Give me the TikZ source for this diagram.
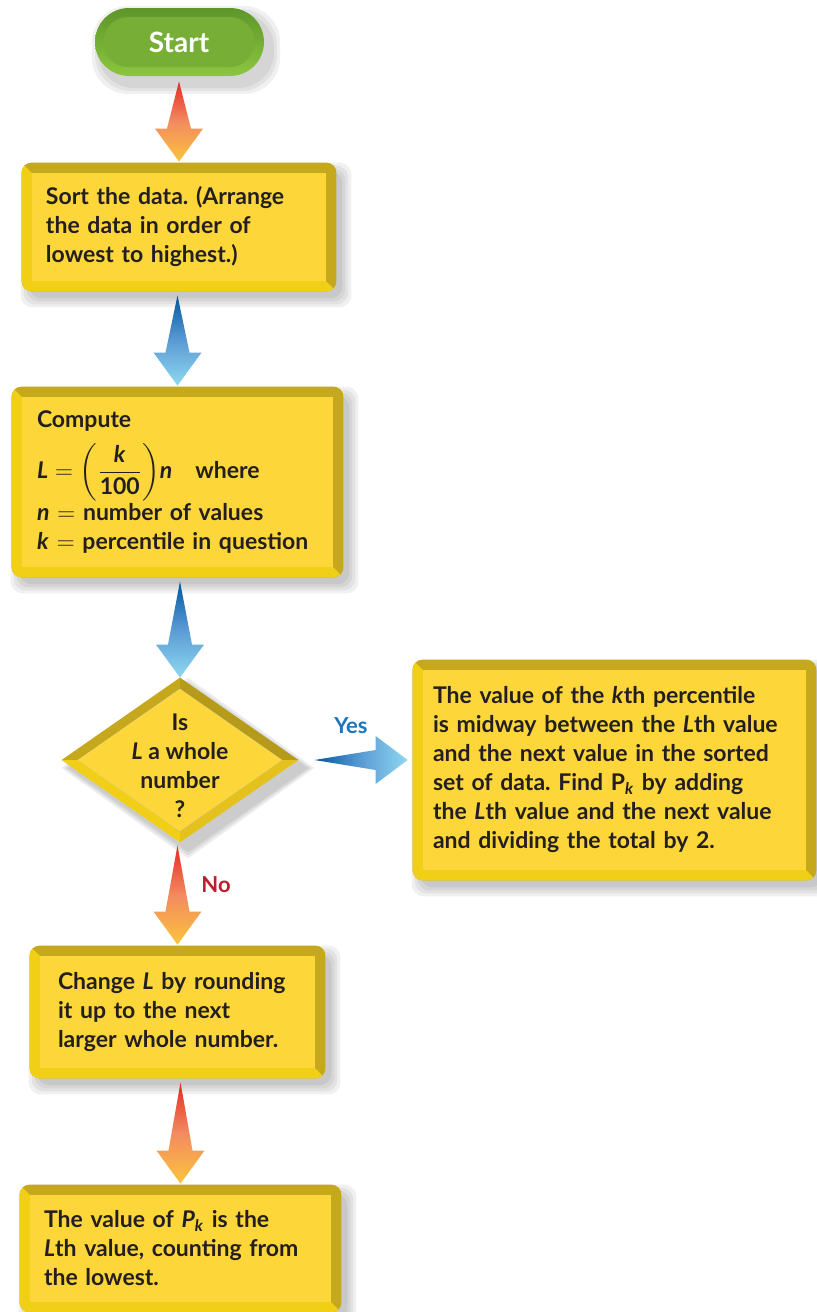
\documentclass[tikz,border=0pt]{standalone}
\usepackage{fontspec}
\setmainfont{Lato}
\usepackage{amsmath}
\usetikzlibrary{shapes.geometric,calc,backgrounds}
\definecolor{Ink}{HTML}{231F20}
\definecolor{Face}{HTML}{FDD63A}
\definecolor{BevDark}{HTML}{C6A81C}
\definecolor{BevMid}{HTML}{E4C11C}
\definecolor{BevLight}{HTML}{F2CF17}
\definecolor{GreenFace}{HTML}{76AE36}
\definecolor{GreenDark}{HTML}{5E962A}
\definecolor{GreenLight}{HTML}{8CC63F}
\definecolor{WarmTop}{HTML}{E52A25}
\definecolor{WarmMid}{HTML}{F28B60}
\definecolor{WarmLow}{HTML}{FCC43C}
\definecolor{CoolTop}{HTML}{00579E}
\definecolor{CoolMid}{HTML}{5B9BD5}
\definecolor{CoolLow}{HTML}{8FD8F0}
\definecolor{YesBlue}{HTML}{1B75BC}
\definecolor{NoRed}{HTML}{BE1E2D}
\frenchspacing
% shadow and bevel behind a box node
\newcommand{\Slab}[1]{%
  \begin{pgfonlayer}{background}
    \foreach \e in {8,5,2,-1}
      \fill[black,opacity=0.06,rounded corners=6pt] ($(#1.north west)+(-3-\e,-2-\e)$) rectangle ($(#1.south east)+(17+\e,18+\e)$);
    \fill[BevDark,rounded corners=5pt] ($(#1.north west)+(-10,-10)$) rectangle ($(#1.south east)+(10,10)$);
    \begin{scope}
      \clip[rounded corners=5pt] ($(#1.north west)+(-10,-10)$) rectangle ($(#1.south east)+(10,10)$);
      \fill[BevLight] ($(#1.north west)+(-10,-10)$) -- (#1.north west) -- (#1.south east)
        -- ($(#1.south east)+(10,10)$) -- ($(#1.south west)+(-10,10)$) -- cycle;
    \end{scope}
  \end{pgfonlayer}%
}
% shadow and bevel behind the decision node
\newcommand{\Gem}[1]{%
  \begin{pgfonlayer}{background}
    \foreach \e in {8,5,2}
      \fill[black,opacity=0.07] ($(#1.north)+(8,-3-\e)$) -- ($(#1.east)+(24+\e,8)$) -- ($(#1.south)+(8,19+\e)$) -- ($(#1.west)+(-8-\e,8)$) -- cycle;
    \fill[BevDark] ($(#1.west)+(-16,0)$) -- ($(#1.north)+(0,-11)$) -- (#1.north) -- (#1.west) -- cycle;
    \fill[BevDark!92!black] ($(#1.north)+(0,-11)$) -- ($(#1.east)+(16,0)$) -- (#1.east) -- (#1.north) -- cycle;
    \fill[BevLight] ($(#1.west)+(-16,0)$) -- ($(#1.south)+(0,11)$) -- (#1.south) -- (#1.west) -- cycle;
    \fill[BevMid] ($(#1.south)+(0,11)$) -- ($(#1.east)+(16,0)$) -- (#1.east) -- (#1.south) -- cycle;
  \end{pgfonlayer}%
}
% fat tapered arrows
\newcommand{\FatDown}[3]{%
  \shade[#3] let \p1=($(#1)+(0,14)$), \p2=($(#2)+(0,-11)$) in
    (\x2,\y1) -- (\x2+6pt,\y2+16.5pt) -- (\x2+12pt,\y2+16.5pt) -- (\x2,\y2)
    -- (\x2-12pt,\y2+16.5pt) -- (\x2-6pt,\y2+16.5pt) -- cycle;%
}
\newcommand{\FatRight}[3]{%
  \shade[#3] let \p1=($(#1)+(32,0)$), \p2=($(#2)+(-15,0)$) in
    (\p1) -- (\x2-16pt,\y1+5pt) -- (\x2-16pt,\y1+12pt) -- (\x2,\y1)
    -- (\x2-16pt,\y1-12pt) -- (\x2-16pt,\y1-5pt) -- cycle;%
}

\begin{document}
\begin{tikzpicture}[x=0.5pt,y=-0.5pt,
  box/.style={rectangle,fill=Face,text=Ink,align=left,inner ysep=0pt,
    font=\bfseries\fontsize{11.5}{14.5}\selectfont},
  pill/.style={rectangle,rounded corners=12.5pt,fill=GreenFace,text=white,
    minimum width=75.5pt,minimum height=25pt,font=\bfseries\fontsize{14}{16}\selectfont},
  tag/.style={font=\bfseries\fontsize{11}{13}\selectfont,inner sep=1pt},
  warm/.style={top color=WarmTop,bottom color=WarmLow,middle color=WarmMid},
  cool/.style={top color=CoolTop,bottom color=CoolLow,middle color=CoolMid},
  coolright/.style={left color=CoolTop,right color=CoolLow,middle color=CoolMid}]
\useasboundingbox (0,0) rectangle (816,1312);

% start
\begin{pgfonlayer}{background}
  \foreach \e in {8,5,2}
    \fill[black,opacity=0.06,rounded corners=18pt] (100-\e,14-\e) rectangle (272+\e,86+\e);
  \shade[top color=GreenDark,bottom color=GreenLight,rounded corners=17pt] (95,8) rectangle (264,76);
\end{pgfonlayer}
\node[pill] (start) at (179,42) {Start};

% boxes
\node[box,text width=133pt,inner xsep=7pt,minimum height=54pt] (sort) at (179,227)
  {Sort the data. (Arrange\\the data in order of\\lowest to highest.)};
\Slab{sort}

\node[box,text width=140.5pt,inner xsep=7.5pt,minimum height=85pt] (compute) at (177.5,482)
  {Compute\\[5pt]
   $\text{\textit{L}} = \biggl(\dfrac{\text{\textit{k}}}{\text{100}}\biggr)\text{\textit{n}}$\quad where\\[0pt]
   \textit{n} $=$ number of values\\
   \textit{k} $=$ percentile in question};
\Slab{compute}

\node[diamond,fill=Face,inner sep=0pt,minimum width=102pt,minimum height=71pt,
  label={[align=center,text=Ink,yshift=-3pt,font=\bfseries\fontsize{11.5}{14.5}\selectfont]center:Is\\\textit{L} a whole\\number\\?}] (whole) at (180,760) {};
\Gem{whole}

\node[box,text width=181.5pt,inner xsep=5pt,minimum height=100pt] (mid) at (614.5,770)
  {The value of the \textit{k}th percentile\\is midway between the \textit{L}th value\\and the next value in the sorted\\set of data. Find P\textsubscript{\textit{k}} by adding\\the \textit{L}th value and the next value\\and dividing the total by 2.};
\Slab{mid}

\node[box,text width=119.5pt,inner xsep=9pt,minimum height=56pt] (round) at (177.5,1012)
  {Change \textit{L} by rounding\\it up to the next\\larger whole number.};
\Slab{round}

\node[box,text width=136.5pt,inner xsep=7pt,minimum height=53.5pt] (pick) at (180.5,1248.5)
  {The value of \textit{P}\textsubscript{\textit{k}} is the\\\textit{L}th value, counting from\\the lowest.};
\Slab{pick}

% arrows
\FatDown{start.south}{sort.north}{warm}
\FatDown{sort.south}{compute.north}{cool}
\FatDown{compute.south}{whole.north}{cool}
\FatRight{whole.east}{mid.west}{coolright}
\FatDown{whole.south}{round.north}{warm}
\FatDown{round.south}{pick.north}{warm}

\node[tag,text=YesBlue] (yes) at (351,726) {Yes};
\node[tag,text=NoRed] (no) at (216,885) {No};
\end{tikzpicture}
\end{document}
